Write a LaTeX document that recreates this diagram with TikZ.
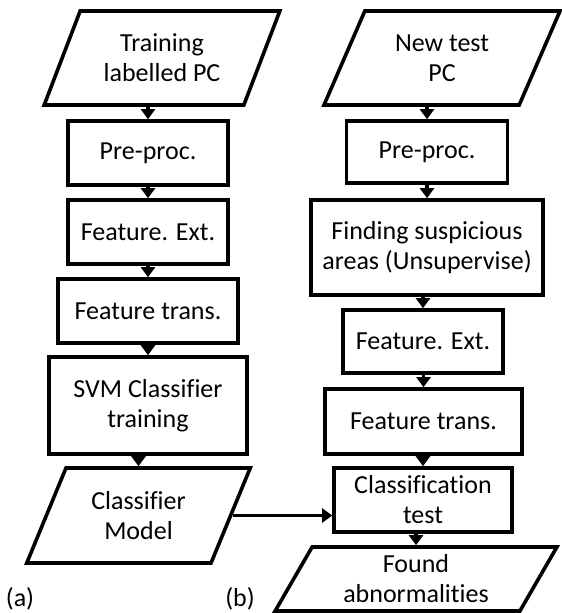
\documentclass[tikz,border=0pt]{standalone}
\usepackage{fontspec}
\setmainfont[Ligatures=NoCommon]{Carlito}
\usetikzlibrary{shapes.geometric,arrows.meta}

\tikzset{
	box/.style={draw, line width=1.8pt, rectangle, align=center, inner sep=1pt},
	iobox/.style={draw, line width=1.8pt, trapezium, trapezium left angle=63,
		trapezium right angle=117, trapezium stretches=true, align=center, inner sep=1pt},
	arr/.style={line width=1.8pt, -{Triangle[width=7pt,length=5pt]}}
}

\begin{document}
\begin{tikzpicture}[x=0.5pt, y=-0.5pt, font=\fontsize{13}{15}\selectfont]

	\useasboundingbox (0,0) rectangle (561,613);

	% (a) training
	\node[iobox, minimum width=118pt, minimum height=47pt] (in1) at (162,58) {Training\\labelled PC};
	\node[box, minimum width=80pt, minimum height=32pt] (pre1) at (148,153) {Pre-proc.};
	\node[box, minimum width=80pt, minimum height=32pt] (ext1) at (148,232) {Feature. Ext.};
	\node[box, minimum width=90pt, minimum height=32pt] (trans1) at (148,311) {Feature trans.};
	\node[box, minimum width=99pt, minimum height=48.5pt] (svm) at (148,405.5) {SVM Classifier\\training};
	\node[iobox, minimum width=112.5pt, minimum height=47.5pt] (model) at (138.5,515.5) {Classifier\\Model};

	% (b) testing
	\node[iobox, minimum width=118.5pt, minimum height=47pt] (in2) at (442,58) {New test\\PC};
	\node[box, minimum width=80.5pt, minimum height=31pt] (pre2) at (427,152) {Pre-proc.};
	\node[box, minimum width=116pt, minimum height=47.5pt] (find) at (427,247.5) {Finding suspicious\\areas (Unsupervise)};
	\node[box, minimum width=80pt, minimum height=31.5pt] (ext2) at (423,341.5) {Feature. Ext.};
	\node[box, minimum width=98.5pt, minimum height=32.5pt] (trans2) at (423.5,421.5) {Feature trans.};
	\node[box, minimum width=89pt, minimum height=32pt] (test) at (423,500) {Classification\\test};
	\node[iobox, minimum width=141pt, minimum height=32pt] (found) at (416,579) {Found\\abnormalities};

	\node (la) at (20,599) {(a)};
	\node (lb) at (240,599) {(b)};

	\foreach \i / \j in {
	in1/pre1,
	pre1/ext1,
	ext1/trans1,
	trans1/svm,
	svm/model,
	in2/pre2,
	pre2/find,
	find/ext2,
	ext2/trans2,
	trans2/test,
	test/found}
	{
		\draw[arr] (\j.north |- \i.south) -- (\j.north);
	};
	\draw[arr] (model.east) -- (model.east -| test.west);
\end{tikzpicture}
\end{document}
